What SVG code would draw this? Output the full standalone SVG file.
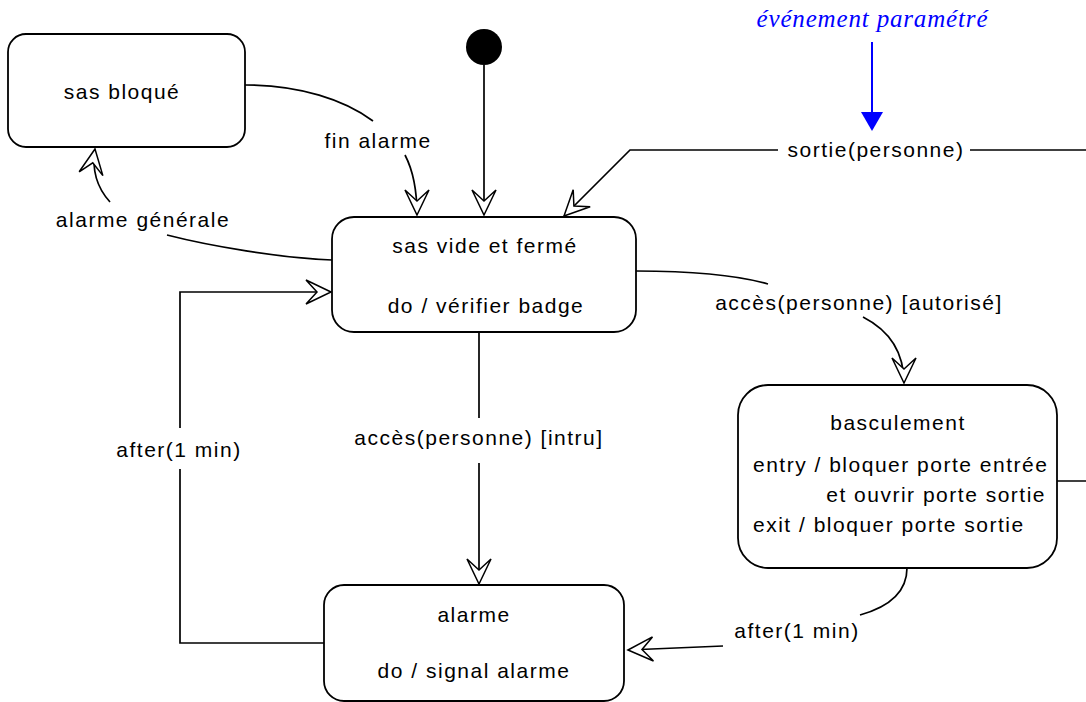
<svg xmlns="http://www.w3.org/2000/svg" width="1086" height="702" viewBox="0 0 1086 702">
  <style>
    .state { fill: #ffffff; stroke: #000000; stroke-width: 1.8; }
    .edge { fill: none; stroke: #000000; stroke-width: 1.7; }
    .lbl { font-family: "Liberation Sans", Arial, sans-serif; font-size: 21px; letter-spacing: 1.5px; fill: #000000; text-anchor: middle; }
    .left { text-anchor: start; }
    .right { text-anchor: end; }
    .note { font-family: "Liberation Serif", "Times New Roman", serif; font-style: italic; font-size: 25px; fill: #0000ff; text-anchor: middle; }
  </style>
  <defs>
    <!-- hollow barbed arrowhead used by all transitions -->
    <marker id="open" viewBox="-27 -14 30 28" refX="0" refY="0" markerWidth="30" markerHeight="28" markerUnits="userSpaceOnUse" orient="auto">
      <polygon points="0,0 -25,-12 -14,0 -25,12" fill="#ffffff" stroke="#000000" stroke-width="1.5" stroke-linejoin="miter"/>
    </marker>
  </defs>

  <rect width="1086" height="702" fill="#ffffff"/>

  <!-- transitions -->
  <g id="connectors">
    <path class="edge" d="M484,65 L484,215" marker-end="url(#open)"/>
    <path class="edge" d="M245,85 C300,85 345,100 373,121"/>
    <path class="edge" d="M405,155 Q417,178 417,215" marker-end="url(#open)"/>
    <path class="edge" d="M332,260 C280,258 210,246 167,235"/>
    <path class="edge" d="M110,202 Q90,180 95,149" marker-end="url(#open)"/>
    <path class="edge" d="M1057,481 L1090,481"/>
    <path class="edge" d="M1090,150 L970,150"/>
    <path class="edge" d="M778,150 L630,150 L564,216" marker-end="url(#open)"/>
    <path class="edge" d="M636,271 C700,271 740,276 768,284"/>
    <path class="edge" d="M863,317 Q904,338 904,383" marker-end="url(#open)"/>
    <path class="edge" d="M479,332 L479,418"/>
    <path class="edge" d="M479,463 L479,584" marker-end="url(#open)"/>
    <path class="edge" d="M324,643 L180,643 L180,469"/>
    <path class="edge" d="M180,428 L180,292 L331,292" marker-end="url(#open)"/>
    <path class="edge" d="M907,568 C907,595 885,608 860,615"/>
    <path class="edge" d="M723,646 L628,650" marker-end="url(#open)"/>

    <text class="lbl" x="378" y="148">fin alarme</text>
    <text class="lbl" x="143" y="227">alarme générale</text>
    <text class="lbl" x="876" y="157">sortie(personne)</text>
    <text class="lbl" x="859" y="310">accès(personne) [autorisé]</text>
    <text class="lbl" x="479" y="445">accès(personne) [intru]</text>
    <text class="lbl" x="179" y="457">after(1 min)</text>
    <text class="lbl" x="797" y="638">after(1 min)</text>
  </g>

  <!-- annotation -->
  <g id="annotation">
    <text class="note" x="872" y="27" textLength="231" lengthAdjust="spacing">événement paramétré</text>
    <path d="M872,42 L872,114" fill="none" stroke="#0000ff" stroke-width="2"/>
    <polygon points="861,112 883,112 872,131" fill="#0000ff"/>
  </g>

  <g id="initial">
    <circle cx="484" cy="47" r="18" fill="#000000"/>
  </g>

  <g id="sas-bloque">
    <rect class="state" x="8" y="34" width="237" height="113" rx="18" ry="18"/>
    <text class="lbl" x="122" y="99">sas bloqué</text>
  </g>

  <g id="sas-vide-ferme">
    <rect class="state" x="332" y="217" width="304" height="115" rx="22" ry="22"/>
    <text class="lbl" x="485" y="253">sas vide et fermé</text>
    <text class="lbl" x="486" y="313">do / vérifier badge</text>
  </g>

  <g id="basculement">
    <rect class="state" x="738" y="385" width="319" height="183" rx="30" ry="30"/>
    <text class="lbl" x="898" y="430">basculement</text>
    <text class="lbl left" x="753" y="472">entry / bloquer porte entrée</text>
    <text class="lbl right" x="1046" y="502">et ouvrir porte sortie</text>
    <text class="lbl left" x="753" y="532">exit / bloquer porte sortie</text>
  </g>

  <g id="alarme">
    <rect class="state" x="324" y="585" width="300" height="116" rx="20" ry="20"/>
    <text class="lbl" x="474" y="622">alarme</text>
    <text class="lbl" x="474" y="678">do / signal alarme</text>
  </g>
</svg>
